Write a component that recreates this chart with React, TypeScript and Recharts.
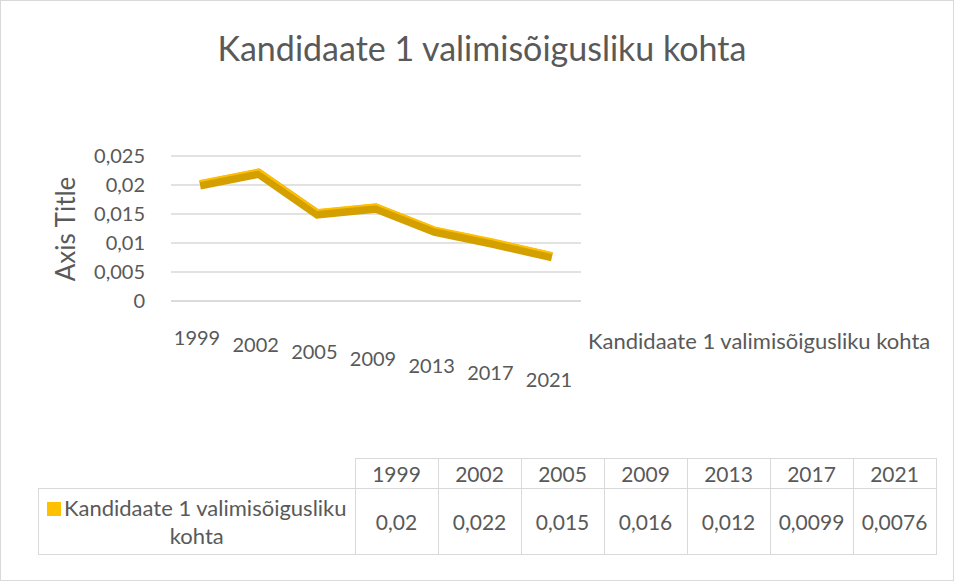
import React from 'react';
import { LineChart, Line, XAxis, YAxis, CartesianGrid } from 'recharts';

const years = ['1999', '2002', '2005', '2009', '2013', '2017', '2021'];
const values = [0.02, 0.022, 0.015, 0.016, 0.012, 0.0099, 0.0076];
const yTicks = [0, 0.005, 0.01, 0.015, 0.02, 0.025];
const seriesName = 'Kandidaate 1 valimisõigusliku kohta';

const data = years.map((y, i) => ({ year: y, value: values[i] }));

const FONT = 'Lato, "Noto Sans", sans-serif';
const TEXT = '#595959';
const GRID = '#d9d9d9';

const fmt = (v: number) => String(v).replace('.', ',');

const StaggerTick = (props: any) => {
  const { x, y, payload, index } = props;
  return (
    <text x={x - 3} y={y + 36 + index * 7} textAnchor="middle" fill={TEXT} fontSize={20} fontFamily={FONT}>
      {payload.value}
    </text>
  );
};

const App = () => {
  return (
    <div style={{ position: 'relative', width: 954, height: 581, background: '#fff', fontFamily: FONT, color: TEXT, boxSizing: 'border-box', border: '1px solid #d9d9d9' }}>
      <style>{'body{margin:0}'}</style>
      <div style={{ position: 'absolute', left: 4, top: 26, width: 954, textAlign: 'center', fontSize: 34 }}>
        {seriesName}
      </div>
      <div style={{ position: 'absolute', left: 64, top: 228, transform: 'translate(-50%,-50%) rotate(-90deg)', fontSize: 26, whiteSpace: 'nowrap' }}>
        Axis Title
      </div>
      <div style={{ position: 'absolute', left: 0, top: 0 }}>
        <LineChart width={954} height={400} data={data} margin={{ top: 155, right: 374, bottom: 20, left: 100 }}>
          <CartesianGrid vertical={false} stroke={GRID} strokeWidth={1.5} />
          <XAxis
            dataKey="year"
            axisLine={{ stroke: GRID, strokeWidth: 1.5 }}
            tickLine={false}
            tick={<StaggerTick />}
            padding={{ left: 29, right: 29 }}
            height={80}
          />
          <YAxis
            domain={[0, 0.025]}
            ticks={yTicks}
            tickFormatter={fmt}
            axisLine={false}
            tickLine={false}
            width={70}
            tick={{ fill: TEXT, fontSize: 20, fontFamily: FONT, dx: -18 }}
          />
          <Line
            type="linear"
            dataKey="value"
            stroke="#d4a000"
            strokeWidth={9}
            dot={false}
            isAnimationActive={false}
          />
          <Line
            type="linear"
            dataKey="value"
            stroke="#ffc000"
            strokeWidth={2}
            dot={false}
            isAnimationActive={false}
            style={{ transform: 'translateY(-4px)' }}
          />
        </LineChart>
      </div>
      <div style={{ position: 'absolute', left: 587, top: 326, fontSize: 22, whiteSpace: 'nowrap' }}>
        {seriesName}
      </div>
      <table style={{ position: 'absolute', left: 37, top: 457, borderCollapse: 'collapse', fontSize: 21, color: TEXT }}>
        <tbody>
          <tr style={{ height: 30 }}>
            <td style={{ width: 316, borderRight: `1px solid ${GRID}`, borderBottom: `1px solid ${GRID}`, padding: 0 }} />
            {years.map((y) => (
              <td key={y} style={{ width: 82, textAlign: 'center', border: `1px solid ${GRID}`, padding: 0 }}>
                {y}
              </td>
            ))}
          </tr>
          <tr style={{ height: 66 }}>
            <td style={{ border: `1px solid ${GRID}`, textAlign: 'center', padding: 0, lineHeight: '28px', fontSize: 22 }}>
              <span style={{ display: 'inline-block', width: 14, height: 14, background: '#ffc000', marginRight: 3 }} />
              Kandidaate 1 valimisõigusliku
              <br />
              kohta
            </td>
            {values.map((v, i) => (
              <td key={i} style={{ textAlign: 'center', border: `1px solid ${GRID}`, padding: 0 }}>
                {fmt(v)}
              </td>
            ))}
          </tr>
        </tbody>
      </table>
    </div>
  );
};

export default App;
